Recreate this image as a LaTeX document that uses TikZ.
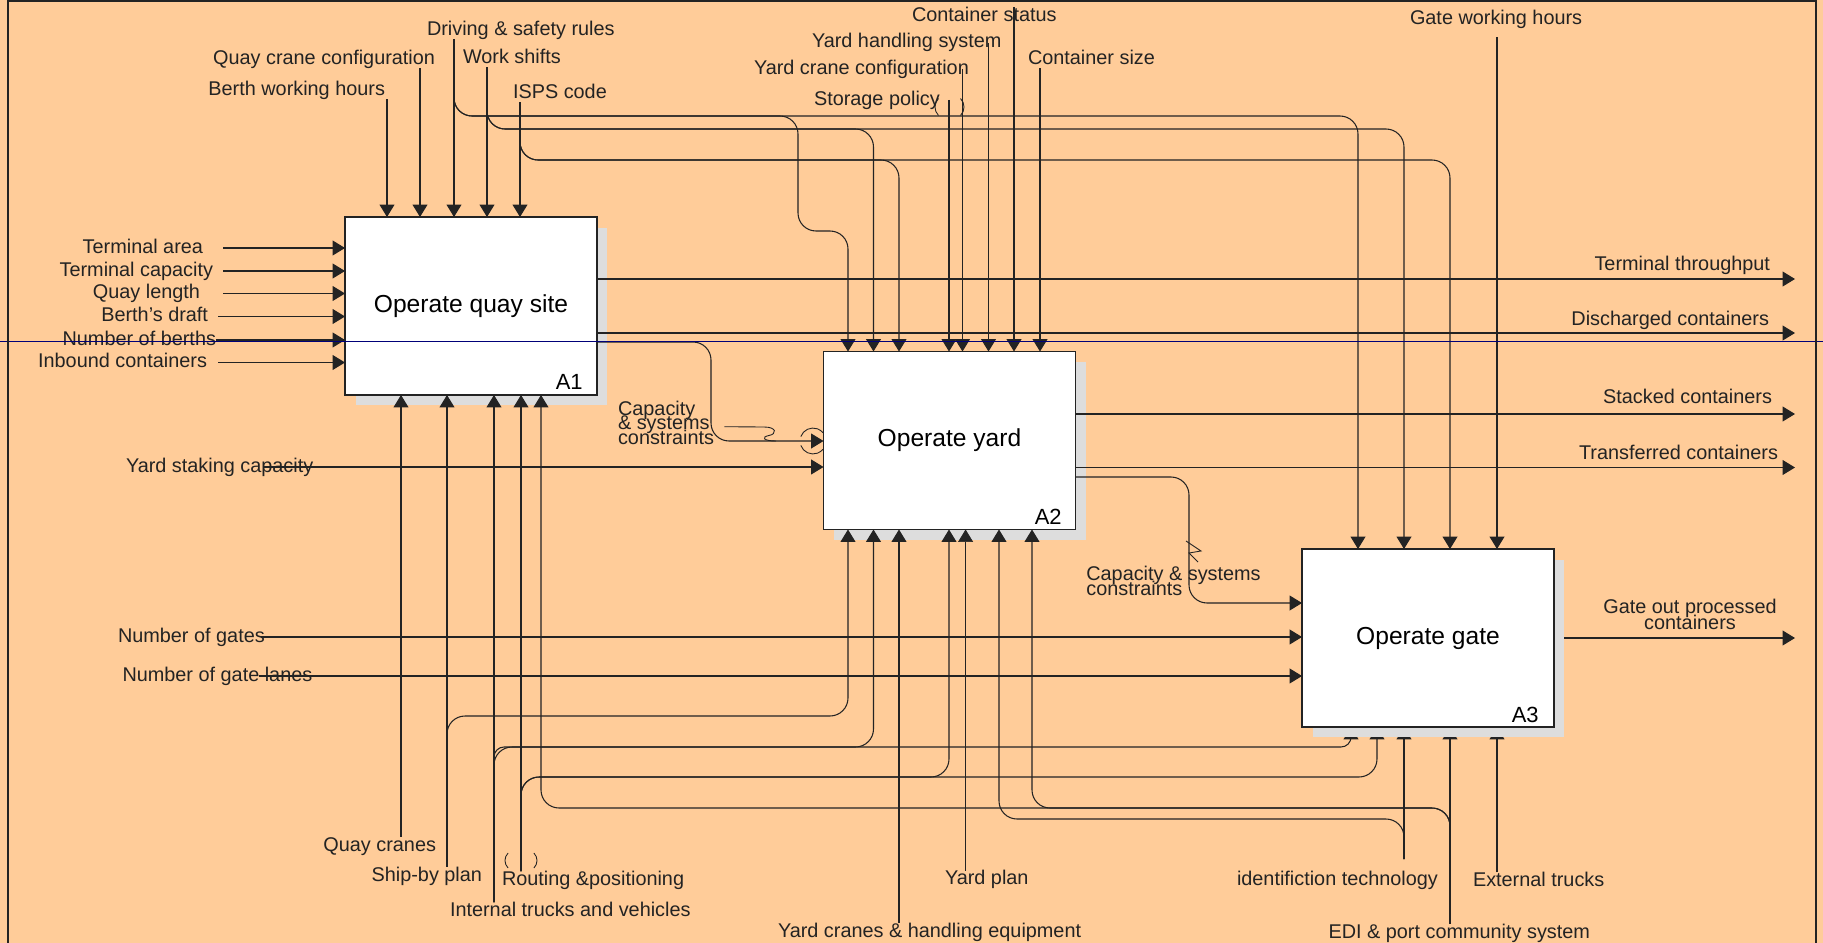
\documentclass[tikz,border=0pt]{standalone}
\usepackage{fontspec}
\setmainfont{Liberation Sans}
\usepackage{tikz}
\usetikzlibrary{arrows.meta,shadows}
\definecolor{sheetorange}{RGB}{255,204,153}
\definecolor{shadowgray}{RGB}{221,221,221}
\definecolor{guidenavy}{RGB}{0,0,120}
\definecolor{inkgray}{RGB}{35,35,35}
\newcommand\tightlines{\lineskiplimit -20pt\relax}

\begin{document}
\begin{tikzpicture}[x=0.02cm,y=-0.02cm,
    func/.style={draw=inkgray,fill=white,line width=0.7pt,inner sep=0pt,outer sep=0pt,
                 minimum width=5.04cm,minimum height=3.56cm,font=\fontsize{14}{16}\selectfont,
                 drop shadow={shadow xshift=0.21cm,shadow yshift=-0.21cm,fill=shadowgray,opacity=1}},
    num/.style={inner sep=0pt,anchor=base east,font=\fontsize{12.5}{14}\selectfont},
    lbl/.style={inner sep=0pt,outer sep=0pt,text=inkgray,font=\fontsize{11.3}{13}\selectfont,
                text height=8.1pt,text depth=2.4pt},
    lblw/.style={lbl,anchor=base west},
    lble/.style={lbl,anchor=base east},
    multi/.style={inner sep=0pt,text=inkgray,align=left,
                  font=\fontsize{11.3}{8.4}\selectfont\tightlines},
    arr/.style={draw=inkgray,line width=0.6pt,rounded corners=0.36cm,
                -{Triangle[length=0.25cm,width=0.3cm]}},
    tunnel/.style={draw=inkgray,line width=0.5pt},
    squig/.style={draw=inkgray,line width=0.5pt}]
  \useasboundingbox (0,0) rectangle (1823,943);
  \fill[sheetorange] (0,0) rectangle (1823,943);

  % Activity boxes
  \node[func] (qa) at (471,306)     {Operate quay site};
  \node[func] (yd) at (949.5,440.5) {Operate yard};
  \node[func] (gt) at (1428,638)    {Operate gate};
  \node[num] (a1) at (583,389)   {A1};
  \node[num] (a2) at (1062,524.7) {A2};
  \node[num] (a3) at (1539,722)  {A3};

  % Controls
  \node[lble] (bwh)  at (385,95)   {Berth working hours};
  \node[lble] (qcc)  at (435,64)   {Quay crane configuration};
  \node[lblw] (dsr)  at (427,35)   {Driving \& safety rules};
  \node[lblw] (wsh)  at (463,63)   {Work shifts};
  \node[lblw] (isps) at (513,98)   {ISPS code};
  \node[lblw] (cst)  at (912,21)   {Container status};
  \node[lblw] (yhs)  at (812,48)   {Yard handling system};
  \node[lblw] (ycc)  at (754,74)   {Yard crane configuration};
  \node[lblw] (csz)  at (1028,64)  {Container size};
  \node[lblw] (stp)  at (814,105)  {Storage policy};
  \node[lblw] (gwh)  at (1410,25)  {Gate working hours};

  % Inputs
  \node[lble] (tar) at (203,253)   {Terminal area};
  \node[lble] (tca) at (213,276)   {Terminal capacity};
  \node[lble] (qle) at (200,298.5) {Quay length};
  \node[lble] (bdr) at (208,321.5) {Berth's draft};
  \node[lble] (nob) at (216,345)   {Number of berths};
  \node[lble] (inb) at (207,367.5) {Inbound containers};
  \node[lblw] (ysc) at (126,472)   {Yard staking capacity};
  \node[lblw] (nog) at (118,642)   {Number of gates};
  \node[lblw] (ngl) at (122.5,681) {Number of gate lanes};
  \node[multi,anchor=west] (cap1) at (617.7,422.7) {Capacity\\\& systems\\constraints};
  \node[multi,anchor=west] (cap2) at (1086,580.6)  {Capacity \& systems\\constraints};

  % Outputs
  \node[lble] (tth) at (1770,270)   {Terminal throughput};
  \node[lble] (dco) at (1769,325)   {Discharged containers};
  \node[lble] (sco) at (1772,403)   {Stacked containers};
  \node[lble] (tco) at (1778,459.5) {Transferred containers};
  \node[multi,align=center,font=\fontsize{11.3}{9.1}\selectfont\tightlines]
    (gop) at (1690,614.8) {Gate out processed\\containers};
  \coordinate (thr) at (1795,279);
  \coordinate (dis) at (1795,333);
  \coordinate (stk) at (1795,414);
  \coordinate (trf) at (1795,467.5);
  \coordinate (gto) at (1795,638);

  % Mechanisms
  \node[lble] (qcr) at (436,851)    {Quay cranes};
  \node[lble] (sbp) at (482,881)    {Ship-by plan};
  \node[lblw] (rap) at (502,885.7)  {Routing \&positioning};
  \node[lblw] (itv) at (450,916.6)  {Internal trucks and vehicles};
  \node[lblw] (ycr) at (778,937.7)  {Yard cranes \& handling equipment};
  \node[lblw] (ypl) at (945,884.8)  {Yard plan};
  \node[lblw] (idt) at (1237,885.5) {identifiction technology};
  \node[lblw] (ext) at (1473,886.5) {External trucks};
  \node[lblw] (edi) at (1328.5,938) {EDI \& port community system};

  % control arrows
  \draw[arr] (bwh.south -| 387,0) -- (387,0 |- qa.north);
  \draw[arr] (qcc.south -| 420,0) -- (420,0 |- qa.north);
  \draw[arr] (dsr.south -| 454,0) -- (454,0 |- qa.north);
  \draw[arr] (dsr.south -| 454,0) |- (798,116) |- (848,231) -- (848,0 |- yd.north);
  \draw[arr] (dsr.south -| 454,0) |- (1358,116) -- (1358,0 |- gt.north);
  \draw[arr] (wsh.south -| 487,0) -- (487,0 |- qa.north);
  \draw[arr] (wsh.south -| 487,0) |- (873.5,129) -- (873.5,0 |- yd.north);
  \draw[arr] (wsh.south -| 487,0) |- (1404,129) -- (1404,0 |- gt.north);
  \draw[arr] (isps.south -| 520,0) -- (520,0 |- qa.north);
  \draw[arr] (isps.south -| 520,0) |- (899,160) -- (899,0 |- yd.north);
  \draw[arr] (isps.south -| 520,0) |- (1450,160) -- (1450,0 |- gt.north);
  \draw[arr] (stp.east -| 949,0) -- (949,0 |- yd.north);
  \draw[arr] (ycc.east -| 962.5,0) -- (962.5,0 |- yd.north);
  \draw[arr] (yhs.east -| 988.5,0) -- (988.5,0 |- yd.north);
  \draw[arr] (cst.north -| 1014,0) -- (1014,0 |- yd.north);
  \draw[arr] (csz.south -| 1040,0) -- (1040,0 |- yd.north);
  \draw[arr] (gwh.south -| 1497,0) ++(0,8) -- (1497,0 |- gt.north);

  % input arrows
  \draw[arr] (tar.east -| 223,0) -- (tar.east -| qa.west);
  \draw[arr] (tca.east -| 223,0) -- (tca.east -| qa.west);
  \draw[arr] (qle.east -| 223,0) -- (qle.east -| qa.west);
  \draw[arr] (bdr.east -| 218,0) -- (bdr.east -| qa.west);
  \draw[arr] (nob.east) -- (nob.east -| qa.west);
  \draw[arr] (inb.east -| 218,0) -- (inb.east -| qa.west);
  \draw[arr] (ysc.east -| 264,0) -- (ysc.east -| yd.west);
  \draw[arr] (nog.east -| 261,0) -- (nog.east -| gt.west);
  \draw[arr] (ngl.east -| 259,0) -- (ngl.east -| gt.west);
  \draw[arr] (qa.east |- 0,342) -| (711,441) -- (yd.west |- 0,441);
  \draw[arr] (yd.east |- 0,477) -| (1189,603) -- (gt.west |- 0,603);

  % output arrows
  \draw[arr] (qa.east |- thr) -- (thr);
  \draw[arr] (qa.east |- dis) -- (dis);
  \draw[arr] (yd.east |- stk) -- (stk);
  \draw[arr] (yd.east |- trf) -- (trf);
  \draw[arr] ([xshift=0.21cm]gt.east) -- (gto);

  % mechanism arrows
  \draw[arr] (qcr.north -| 401,0) -- (401,0 |- qa.south);
  \draw[arr] (sbp.north -| 447,0) -- (447,0 |- qa.south);
  \draw[arr] (sbp.north -| 447,0) |- (848,716) -- (848,0 |- yd.south);
  \draw[arr] (itv.north -| 494,0) -- (494,0 |- qa.south);
  \draw[arr] (itv.north -| 494,0) |- (873.5,747) -- (873.5,0 |- yd.south);
  \draw[arr,rounded corners=0.2cm] (itv.north -| 494,0) |- (1351,747) -- (1351,0 |- gt.south);
  \draw[arr] (rap.north -| 521,0) -- (521,0 |- qa.south);
  \draw[arr] (rap.north -| 521,0) |- (949,777) -- (949,0 |- yd.south);
  \draw[arr] (rap.north -| 521,0) |- (1377,777) -- (1377,0 |- gt.south);
  \draw[arr] (edi.north -| 1450,0) -- (1450,0 |- gt.south);
  \draw[arr] (edi.north -| 1450,0) |- (1032,808) -- (1032,0 |- yd.south);
  \draw[arr] (edi.north -| 1450,0) |- (541,808) -- (541,0 |- qa.south);
  \draw[arr] (idt.north -| 1404,0) ++(0,-12) -- (1404,0 |- gt.south);
  \draw[arr] (idt.north -| 1404,0) ++(0,-12) |- (999,819) -- (999,0 |- yd.south);
  \draw[arr] (ext.north -| 1497,0) -- (1497,0 |- gt.south);
  \draw[arr,line width=0.4pt] (ypl.north -| 965.6,0) -- (965.6,0 |- yd.south);
  \draw[arr] (ycr.north -| 899,0) -- (899,0 |- yd.south);

  % shadow of A3 over its mechanism heads
  \fill[shadowgray] ([xshift=0.21cm,yshift=-0.4pt]gt.south west)
    rectangle ([xshift=0.21cm,yshift=-0.21cm]gt.south east);

  % tunnels and squiggles
  \draw[tunnel] (938.5,98.5) arc[start angle=135,end angle=225,radius=0.24cm];
  \draw[tunnel] (960.5,115.5) arc[start angle=-45,end angle=45,radius=0.24cm];
  \draw[tunnel] (508.1,853) arc[start angle=135,end angle=225,radius=0.212cm];
  \draw[tunnel] (533.9,868) arc[start angle=-45,end angle=45,radius=0.212cm];
  \draw[tunnel] (800.8,436.6) arc[start angle=160,end angle=40,radius=0.26cm];
  \draw[tunnel] (800.8,445.4) arc[start angle=200,end angle=320,radius=0.26cm];
  \draw[squig] (cap1.east) ++(10,4) -- (764,427) .. controls (777,427) and (777,434) .. (769,435.5)
    .. controls (761,437) and (763,441) .. (776,441);
  \draw[squig] (1186,541) -- (1201,551) -- (1189,553) -- (1198,562);

  % guide line and sheet frame
  \draw[guidenavy,line width=0.6pt] (0,341.7) -- (1823,341.7);
  \draw[inkgray,line width=0.9pt] (8,943) -- (8,0.8) -- (1816,0.8) -- (1816,943);
\end{tikzpicture}
\end{document}
